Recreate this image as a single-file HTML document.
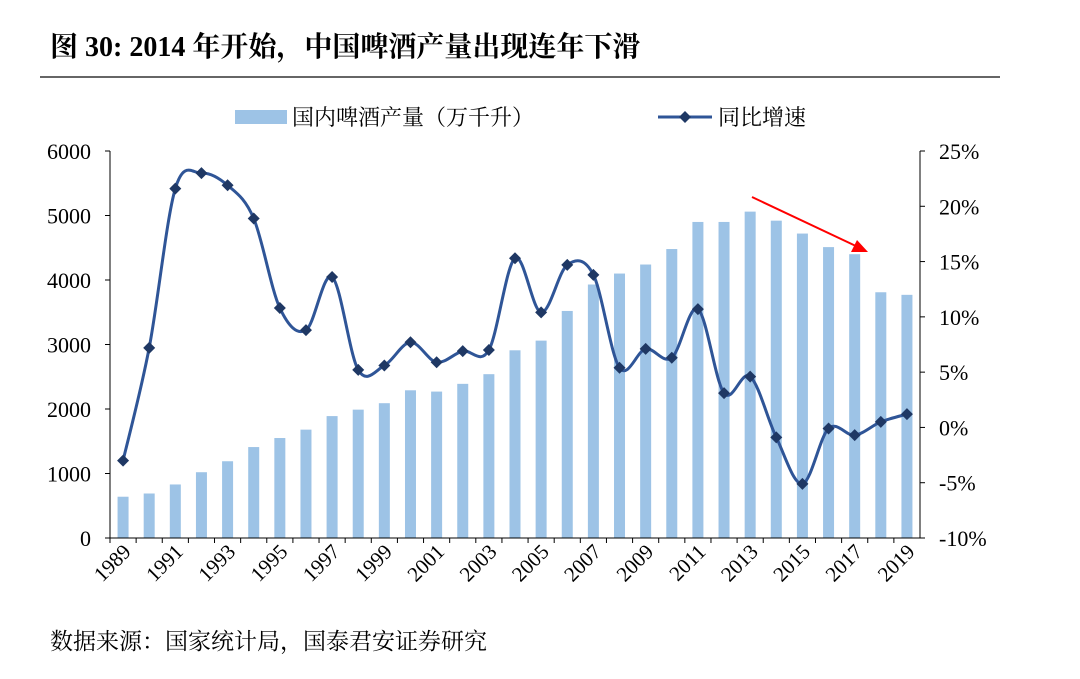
<!DOCTYPE html>
<html><head><meta charset="utf-8"><style>
body{margin:0;background:#fff;width:1080px;height:674px;overflow:hidden;font-family:"Liberation Serif","Noto Serif CJK SC",serif}
</style></head><body>
<svg width="1080" height="674" xmlns="http://www.w3.org/2000/svg">
<text x="50" y="56" font-size="28" font-weight="bold" font-family="Liberation Serif,Noto Serif CJK SC,serif">图 30:  2014 年开始，中国啤酒产量出现连年下滑</text>
<line x1="40" y1="77" x2="1000" y2="77" stroke="#333" stroke-width="1.5"/>
<g id="g"></g>
<text x="50" y="649" font-size="23" font-family="Liberation Serif,Noto Serif CJK SC,serif">数据来源：国家统计局，国泰君安证券研究</text>
</svg>
<script>
const years=[1989,1990,1991,1992,1993,1994,1995,1996,1997,1998,1999,2000,2001,2002,2003,2004,2005,2006,2007,2008,2009,2010,2011,2012,2013,2014,2015,2016,2017,2018,2019];
const output=[640,690,830,1020,1190,1410,1550,1680,1890,1990,2090,2290,2270,2390,2540,2910,3060,3520,3930,4100,4240,4480,4900,4900,5060,4920,4720,4510,4400,3810,3770];
const growth=[-3.0,7.2,21.6,23.0,21.9,18.9,10.8,8.8,13.6,5.2,5.6,7.7,5.9,6.9,7.0,15.3,10.4,14.7,13.8,5.4,7.1,6.3,10.7,3.1,4.6,-0.9,-5.1,-0.1,-0.7,0.5,1.2];
const leftTicks=[0,1000,2000,3000,4000,5000,6000];
const rightTicks=[-10,-5,0,5,10,15,20,25];
const NS="http://www.w3.org/2000/svg",g=document.getElementById('g');
const X0=110,X1=920,Y0=538,Y1=151;
const cw=(X1-X0)/years.length;
const xc=i=>X0+cw*(i+0.5);
const yl=v=>Y0-(v/6000)*(Y0-Y1);
const yr=v=>Y0-((v+10)/35)*(Y0-Y1);
function el(t,a,txt){const e=document.createElementNS(NS,t);for(const k in a)e.setAttribute(k,a[k]);if(txt!=null)e.textContent=txt;g.appendChild(e);return e;}
const F="Liberation Serif,Noto Serif CJK SC,serif";
output.forEach((v,i)=>{const e=el('rect',{x:xc(i)-5.5,y:yl(v),width:11,height:Y0-yl(v),fill:'#9dc3e6'});

});
let a=el('line',{x1:X0,y1:Y1,x2:X0,y2:Y0,stroke:'#000'});
a=el('line',{x1:X1,y1:Y1,x2:X1,y2:Y0,stroke:'#000'});
a=el('line',{x1:X0,y1:Y0,x2:X1,y2:Y0,stroke:'#000'});
leftTicks.forEach(v=>{el('line',{x1:X0-5,y1:yl(v),x2:X0,y2:yl(v),stroke:'#000'});
const t=el('text',{x:X0-19,y:yl(v)+8,'text-anchor':'end','font-size':22,'font-family':F},v);

});
rightTicks.forEach(v=>{el('line',{x1:X1,y1:yr(v),x2:X1+5,y2:yr(v),stroke:'#000'});
const t=el('text',{x:X1+19,y:yr(v)+8,'font-size':22,'font-family':F},v+'%');

});
years.forEach((y,i)=>{el('line',{x1:X0+cw*i,y1:Y0,x2:X0+cw*i,y2:Y0+5,stroke:'#000'});
if(i%2==0){const x=xc(i)+9,yy=Y0+15;const t=el('text',{x:x,y:yy,'text-anchor':'end','font-size':21,'font-family':F,transform:`rotate(-45 ${x} ${yy})`},y);

}});
const pts=growth.map((v,i)=>[xc(i),yr(v)]);
let d='M'+pts[0][0]+','+pts[0][1];
for(let i=0;i<pts.length-1;i++){const p0=pts[Math.max(0,i-1)],p1=pts[i],p2=pts[i+1],p3=pts[Math.min(pts.length-1,i+2)];
d+=` C${p1[0]+(p2[0]-p0[0])/6},${p1[1]+(p2[1]-p0[1])/6} ${p2[0]-(p3[0]-p1[0])/6},${p2[1]-(p3[1]-p1[1])/6} ${p2[0]},${p2[1]}`;}
const ln=el('path',{d:d,fill:'none',stroke:'#2f5597','stroke-width':3});


pts.forEach((p,i)=>{const m=el('path',{d:`M${p[0]},${p[1]-6}L${p[0]+6},${p[1]}L${p[0]},${p[1]+6}L${p[0]-6},${p[1]}Z`,fill:'#1f3864'});

});
const ar=el('line',{x1:752,y1:197,x2:858,y2:247,stroke:'#f00','stroke-width':2});


el('path',{d:'M868,252 L851,252 L857,240 Z',fill:'#f00'});
let lg=el('rect',{x:235,y:110,width:52,height:14,fill:'#9dc3e6'});

lg=el('text',{x:292,y:125,'font-size':22,'font-family':F},'国内啤酒产量（万千升）');

lg=el('line',{x1:658,y1:117,x2:712,y2:117,stroke:'#2f5597','stroke-width':3});

el('path',{d:'M685,111L691,117L685,123L679,117Z',fill:'#1f3864'});
lg=el('text',{x:718,y:125,'font-size':22,'font-family':F},'同比增速');

</script>
</body></html>
